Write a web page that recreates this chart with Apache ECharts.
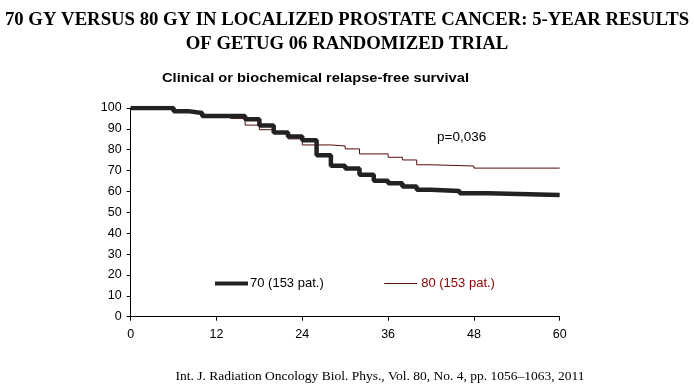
<!DOCTYPE html>
<html><head><meta charset="utf-8">
<script src="https://cdn.jsdelivr.net/npm/echarts@6/dist/echarts.min.js"></script>
<style>html,body{margin:0;padding:0;background:#fff}#c{width:694px;height:387px}</style>
</head><body><div id="c"></div>
<script>
var xTicks = [0, 12, 24, 36, 48, 60];
var yTicks = [0, 10, 20, 30, 40, 50, 60, 70, 80, 90, 100];
var t70 = [0, 6, 8, 10, 16, 18, 20, 22, 24, 26, 28, 30, 32, 34, 36, 38, 40, 42, 46, 50, 60];
var v70 = [100, 98.5, 97.6, 96.2, 94.6, 91.6, 88.3, 86.3, 84.5, 77.3, 72.3, 71.0, 68.0, 65.1, 64.0, 62.4, 60.8, 60.2, 59.2, 58.3, 58.3];
var t80 = [0, 6, 8, 10, 14, 16, 18, 20, 22, 24, 28, 30, 32, 36, 38, 40, 42, 48, 60];
var v80 = [100, 98.5, 97.6, 96.2, 95.0, 91.8, 89.6, 87.8, 85.2, 82.3, 81.8, 80.4, 78.0, 76.4, 75.1, 72.8, 72.2, 71.2, 71.2];
var names = ['70 (153 pat.)', '80 (153 pat.)'];

function pairs(t, v) { return t.map(function (x, i) { return [x, v[i]]; }); }

var chart = echarts.init(document.getElementById('c'));
chart.setOption({
  animation: false,
  legend: {
    left: 213, top: 277, padding: 0, itemWidth: 33, itemHeight: 12, itemGap: 60,
    itemStyle: { opacity: 0 },
    textStyle: { fontFamily: 'Liberation Sans', fontSize: 13, color: '#000', padding: [0, 0, 0, -3] },
    data: [
      { name: names[0], textStyle: { color: '#000' }, lineStyle: { width: 4, color: '#222' } },
      { name: names[1], textStyle: { color: '#8b0000', padding: [0, 0, 0, -1] }, lineStyle: { width: 1, color: '#5a0a0a' } }
    ]
  },
  grid: { left: 130.7, right: 134.3, top: 108, bottom: 70.3, containLabel: false },
  xAxis: {
    type: 'value', min: 0, max: 60, interval: 12,
    axisLine: { lineStyle: { color: '#000', width: 1 } },
    axisTick: { show: true, length: 4, lineStyle: { color: '#000' } },
    axisLabel: { fontFamily: 'Liberation Sans', fontSize: 12.5, color: '#000', margin: 11,
      formatter: function (v) { return xTicks.indexOf(v) >= 0 ? String(v) : ''; } },
    splitLine: { show: false }
  },
  yAxis: {
    type: 'value', min: 0, max: 100, interval: 10,
    axisLine: { show: true, lineStyle: { color: '#000', width: 1 } },
    axisTick: { show: true, length: 4, lineStyle: { color: '#000' } },
    axisLabel: { fontFamily: 'Liberation Sans', fontSize: 12.5, color: '#000', margin: 9,
      formatter: function (v) { return yTicks.indexOf(v) >= 0 ? String(v) : ''; } },
    splitLine: { show: false }
  },
  graphic: [
    { type: 'text', x: 347, y: 20, scaleX: 1.04,
      style: { text: '70 GY VERSUS 80 GY IN LOCALIZED PROSTATE CANCER: 5-YEAR RESULTS', font: 'bold 18px "Liberation Serif"', fill: '#000', textAlign: 'center', textVerticalAlign: 'middle' } },
    { type: 'text', x: 347, y: 44, scaleX: 1.04,
      style: { text: 'OF GETUG 06 RANDOMIZED TRIAL', font: 'bold 18px "Liberation Serif"', fill: '#000', textAlign: 'center', textVerticalAlign: 'middle' } },
    { type: 'text', x: 315.5, y: 78.5, scaleX: 1.13,
      style: { text: 'Clinical or biochemical relapse-free survival', font: 'bold 13px "Liberation Sans"', fill: '#000', textAlign: 'center', textVerticalAlign: 'middle' } },
    { type: 'text', x: 380, y: 376, 
      style: { text: 'Int. J. Radiation Oncology Biol. Phys., Vol. 80, No. 4, pp. 1056\u20131063, 2011', font: '13.5px "Liberation Serif"', fill: '#000', textAlign: 'center', textVerticalAlign: 'middle' } },
    { type: 'text', x: 437, y: 137,
      style: { text: 'p=0,036', font: '13.5px "Liberation Sans"', fill: '#000', textAlign: 'left', textVerticalAlign: 'middle' } }
  ],
  series: [
    { name: names[1], type: 'line', step: 'end', symbol: 'none', data: pairs(t80, v80),
      lineStyle: { color: '#5a0a0a', width: 1 }, itemStyle: { color: '#5a0a0a' }, z: 2 },
    { name: names[0], type: 'line', step: 'end', symbol: 'none', data: pairs(t70, v70),
      lineStyle: { color: '#222', width: 4.5 }, itemStyle: { color: '#222' }, z: 3 }
  ]
});
</script></body></html>
